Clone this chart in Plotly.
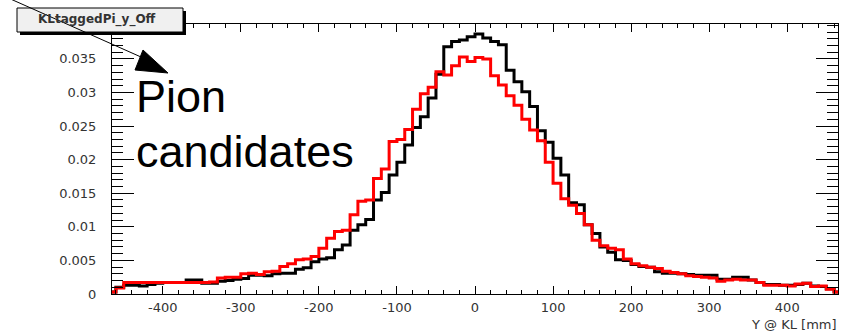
import plotly.graph_objects as go

# Histogram binning (mm): 94 bins of 10 mm, edges on multiples of 10
BIN_LOW = -470
BIN_WIDTH = 10
N_BINS = 94

# Normalised entries per bin, black = reference sample, red = pion candidates
black_vals = [
    0.0003, 0.0010, 0.0013, 0.0013, 0.0012, 0.0014, 0.0016, 0.0017, 0.0017, 0.0017,
    0.0021, 0.0021, 0.0016, 0.0016, 0.0019, 0.0020, 0.0022, 0.0023, 0.0028, 0.0028,
    0.0027, 0.0030, 0.0031, 0.0031, 0.0037, 0.0039, 0.0048, 0.0052, 0.0054, 0.0066,
    0.0073, 0.0095, 0.0103, 0.0111, 0.0140, 0.0151, 0.0177, 0.0196, 0.0222, 0.0248,
    0.0264, 0.0292, 0.0327, 0.0368, 0.0376, 0.0378, 0.0383, 0.0387, 0.0381, 0.0376,
    0.0371, 0.0333, 0.0316, 0.0301, 0.0279, 0.0243, 0.0226, 0.0202, 0.0177, 0.0136,
    0.0133, 0.0103, 0.0090, 0.0070, 0.0062, 0.0051, 0.0050, 0.0044, 0.0041, 0.0040,
    0.0033, 0.0031, 0.0031, 0.0030, 0.0029, 0.0028, 0.0028, 0.0028, 0.0022, 0.0022,
    0.0025, 0.0025, 0.0021, 0.0017, 0.0014, 0.0014, 0.0013, 0.0013, 0.0014, 0.0016,
    0.0012, 0.0011, 0.0008, 0.0003,
]
red_vals = [
    0.0003, 0.0009, 0.0017, 0.0017, 0.0017, 0.0017, 0.0017, 0.0017, 0.0017, 0.0017,
    0.0017, 0.0017, 0.0017, 0.0018, 0.0024, 0.0025, 0.0025, 0.0030, 0.0031, 0.0029,
    0.0033, 0.0034, 0.0041, 0.0045, 0.0051, 0.0052, 0.0056, 0.0068, 0.0083, 0.0093,
    0.0095, 0.0118, 0.0138, 0.0140, 0.0172, 0.0186, 0.0227, 0.0230, 0.0245, 0.0275,
    0.0298, 0.0308, 0.0331, 0.0326, 0.0340, 0.0353, 0.0346, 0.0352, 0.0350, 0.0325,
    0.0311, 0.0295, 0.0281, 0.0260, 0.0244, 0.0228, 0.0196, 0.0165, 0.0142, 0.0132,
    0.0120, 0.0103, 0.0080, 0.0072, 0.0068, 0.0066, 0.0052, 0.0045, 0.0042, 0.0040,
    0.0038, 0.0034, 0.0032, 0.0030, 0.0027, 0.0026, 0.0025, 0.0024, 0.0019, 0.0021,
    0.0022, 0.0021, 0.0021, 0.0017, 0.0013, 0.0013, 0.0013, 0.0012, 0.0015, 0.0016,
    0.0011, 0.0012, 0.0007, 0.0003,
]

x_tick_vals = [-400, -300, -200, -100, 0, 100, 200, 300, 400]
x_tick_text = ["-400", "-300", "-200", "-100", "0", "100", "200", "300", "400"]
y_tick_vals = [0, 0.005, 0.01, 0.015, 0.02, 0.025, 0.03, 0.035]
y_tick_text = ["0", "0.005", "0.01", "0.015", "0.02", "0.025", "0.03", "0.035"]

hist_title = "KLtaggedPi_y_Off"
x_title = "Y @ KL [mm]"
note_lines = ["Pion", "candidates"]

centers = [BIN_LOW + BIN_WIDTH * (i + 0.5) for i in range(N_BINS)]

W, H = 841, 331
L, R, T, B = 112, 3, 24, 37
PW, PH = W - L - R, H - T - B


def px(x):
    return (x - L) / PW


def py(y):
    return (H - B - y) / PH


fig = go.Figure()
fig.add_trace(go.Scatter(x=centers, y=black_vals, mode="lines",
                         line=dict(color="black", width=3, shape="hvh"),
                         showlegend=False))
fig.add_trace(go.Scatter(x=centers, y=red_vals, mode="lines",
                         line=dict(color="#ff0000", width=3, shape="hvh"),
                         showlegend=False))

tick_font = dict(family="DejaVu Sans", size=13, color="#333")

fig.update_xaxes(range=[-465, 465], tickvals=x_tick_vals, ticktext=x_tick_text,
                 ticks="inside", ticklen=8, tickwidth=1, tickcolor="black",
                 minor=dict(dtick=20, tick0=0, ticks="inside", ticklen=4,
                            tickcolor="black", showgrid=False),
                 showline=True, linecolor="black", linewidth=1, mirror="allticks",
                 showgrid=False, zeroline=False, tickfont=tick_font,
                 ticklabelstandoff=1)
fig.update_yaxes(range=[0, 0.0402], tickvals=y_tick_vals, ticktext=y_tick_text,
                 ticks="inside", ticklen=22, tickwidth=1, tickcolor="black",
                 minor=dict(dtick=0.001, tick0=0, ticks="inside", ticklen=11,
                            tickcolor="black", showgrid=False),
                 showline=True, linecolor="black", linewidth=1, mirror="allticks",
                 showgrid=False, zeroline=False, tickfont=tick_font,
                 ticklabelstandoff=12)

shapes = [
    # title box shadow and box
    dict(type="rect", xref="paper", yref="paper", layer="above",
         x0=px(20), x1=px(186), y0=py(11), y1=py(35),
         fillcolor="black", line=dict(width=0)),
    dict(type="rect", xref="paper", yref="paper", layer="above",
         x0=px(17), x1=px(183), y0=py(8), y1=py(32),
         fillcolor="#f0f0f0", line=dict(color="black", width=1)),
    # pointer line and head
    dict(type="line", xref="paper", yref="paper", layer="above",
         x0=px(6), y0=py(-3), x1=px(150), y1=py(61),
         line=dict(color="black", width=1)),
    dict(type="path", xref="paper", yref="paper", layer="above",
         path=f"M {px(143)},{py(50)} L {px(135)},{py(70)} L {px(168)},{py(73)} Z",
         fillcolor="black", line=dict(color="black", width=1)),
]

annotations = [
    dict(text=f"<b>{hist_title}</b>", xref="paper", yref="paper",
         x=px(97), y=py(20), xanchor="center", yanchor="middle",
         showarrow=False, font=dict(family="DejaVu Sans", size=12, color="#333")),
    dict(text=x_title, xref="paper", yref="paper", x=px(839), y=py(324),
         xanchor="right", yanchor="middle", showarrow=False,
         font=dict(family="DejaVu Sans", size=13, color="#333")),
    dict(text=note_lines[0], xref="paper", yref="paper", x=px(134), y=py(96),
         xanchor="left", yanchor="middle", showarrow=False,
         font=dict(family="Liberation Sans", size=45, color="black")),
    dict(text=note_lines[1], xref="paper", yref="paper", x=px(134), y=py(151),
         xanchor="left", yanchor="middle", showarrow=False,
         font=dict(family="Liberation Sans", size=45, color="black")),
]

fig.update_layout(width=W, height=H, margin=dict(l=L, r=R, t=T, b=B),
                  paper_bgcolor="white", plot_bgcolor="white",
                  shapes=shapes, annotations=annotations, showlegend=False)

fig.write_html("out.html")
